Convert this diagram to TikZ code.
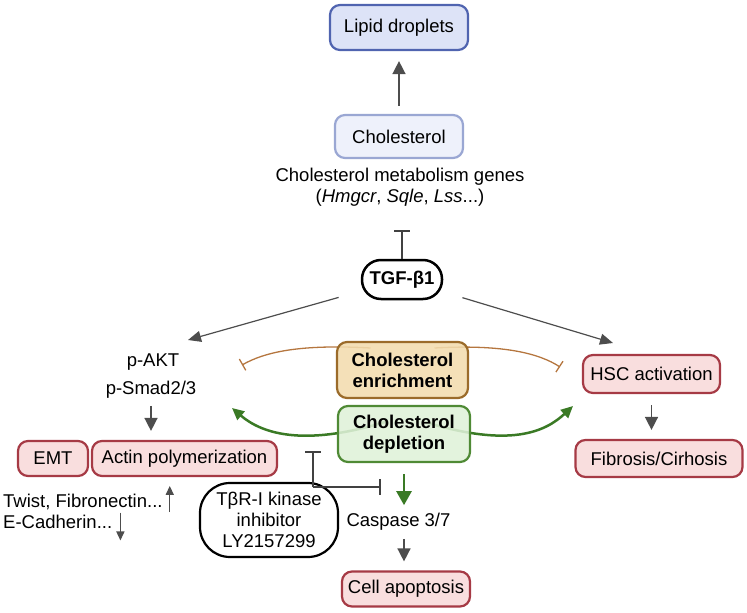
\documentclass[tikz,border=0pt]{standalone}
\usepackage{fontspec}
\setmainfont{Liberation Sans}
\usetikzlibrary{arrows.meta}
\pgfdeclarelayer{background}
\pgfsetlayers{background,main}
\definecolor{pinkF}{HTML}{F9DEDE}
\definecolor{pinkD}{HTML}{A63A45}
\definecolor{blueF}{HTML}{DDE3F7}
\definecolor{blueD}{HTML}{5064B0}
\definecolor{lblueF}{HTML}{EEF1FB}
\definecolor{lblueD}{HTML}{9AA7D3}
\definecolor{tanF}{HTML}{F2DCAE}
\definecolor{tanD}{HTML}{9B6B2A}
\definecolor{grnF}{HTML}{DFF1D8}
\definecolor{grnD}{HTML}{4F8A35}
\definecolor{brn}{HTML}{B5763F}
\definecolor{grnA}{HTML}{3A7A25}
\definecolor{arr}{HTML}{4D4D4D}
\begin{document}
\begin{tikzpicture}[x=1pt,y=-1pt,
  every node/.style={font=\fontsize{18.5}{21}\selectfont, inner sep=0pt, align=center},
  boldtxt/.style={font=\fontsize{18.5}{21}\selectfont\bfseries},
  box/.style={rounded corners=10pt, line width=2.2pt},
  pinkbox/.style={box, draw=pinkD, fill=pinkF},
  bluebox/.style={box, draw=blueD, fill=blueF},
  lbluebox/.style={box, draw=lblueD, fill=lblueF},
  tanbox/.style={box, draw=tanD, fill=tanF, fill opacity=0.88, text opacity=1, boldtxt},
  grnbox/.style={box, draw=grnD, fill=grnF, fill opacity=0.88, text opacity=1, boldtxt},
  garr/.style={draw=arr, line width=1.5pt, -{Triangle[length=13pt,width=13pt]}},
  tarr/.style={draw=arr, line width=1.2pt, -{Triangle[length=13pt,width=11pt]}},
  sarr/.style={draw=arr, line width=1.4pt, -{Triangle[length=9pt,width=8pt]}},
  inhib/.style={draw=arr!85!black, line width=2pt, -{Bar[width=16pt]}},
  binh/.style={draw=brn, line width=1.3pt, -{Bar[width=13pt]}},
  gcurve/.style={draw=grnA, line width=2.5pt, -{Triangle[length=12pt,width=11pt]}},
  gdown/.style={draw=grnA, line width=2.5pt, -{Triangle[length=14pt,width=15pt]}},
]
\useasboundingbox (0,0) rectangle (747,613);

% top
\node[bluebox, minimum width=138pt, minimum height=45pt] (lip) at (399,27.5) {Lipid droplets};
\node[lbluebox, minimum width=128pt, minimum height=43pt] (chol) at (399,136.5) {Cholesterol};
\node (genes) at (400,187) {Cholesterol metabolism genes\\(\textit{Hmgcr}, \textit{Sqle}, \textit{Lss}...)};
\node[draw, line width=2.5pt, rounded corners=19pt, minimum width=80pt, minimum height=39pt, boldtxt] (tgf) at (402,279.5) {TGF-β1};
\coordinate (tbar) at (402,230);

\draw[garr, shorten <=8pt, shorten >=10pt] (chol.north) -- (lip.south);
\draw[inhib] (tgf.north) -- (tbar);

% left branch
\node (pakt) at (153,362) {p-AKT};
\node (psmad) at (151,390) {p-Smad2/3};
\node[pinkbox, minimum width=70pt, minimum height=35pt] (emt) at (53,458.5) {EMT};
\node[pinkbox, minimum width=185pt, minimum height=35pt] (actin) at (184.5,458.5) {Actin polymerization};
\node[anchor=west] (twist) at (3,502) {Twist, Fibronectin...};
\node[anchor=west] (ecad) at (3,521.5) {E-Cadherin...};
\coordinate (lt) at (188,340);
\coordinate (rt) at (613,343);
\draw[tarr, shorten <=23pt] (tgf) -- (lt);
\draw[tarr, shorten <=20pt] (tgf) -- (rt);
\draw[garr, shorten <=7pt, shorten >=9pt] (psmad.south) -- (psmad.south |- actin.north);
\draw[sarr] ([shift={(7,2)}]twist.south east) -- ([shift={(7,-8)}]twist.north east);
\draw[sarr] ([shift={(8,-2)}]ecad.north east) -- ([shift={(8,12)}]ecad.south east);

% center
\node[tanbox, minimum width=131pt, minimum height=56pt] (enr) at (402.5,370) {Cholesterol\\enrichment};
\node[grnbox, minimum width=132pt, minimum height=56pt] (depl) at (404,434) {Cholesterol\\depletion};
\coordinate (bl) at (242,365);
\coordinate (br) at (560,367);
\coordinate (gl) at (232,408);
\coordinate (gr) at (573,406);
\begin{pgfonlayer}{background}
\draw[binh] ([shift={(-32,-22)}]enr.center) .. controls (300,344) and (265,352) .. (bl);
\draw[binh] ([shift={(32,-22)}]enr.center) .. controls (505,344) and (540,354) .. (br);
\draw[gcurve] ([shift={(-19,-12)}]depl.center) .. controls (300,448) and (260,432) .. (gl);
\draw[gcurve] ([shift={(21,-12)}]depl.center) .. controls (510,448) and (545,432) .. (gr);
\end{pgfonlayer}

% right branch
\node[pinkbox, minimum width=137pt, minimum height=38pt] (hsc) at (651.5,374) {HSC activation};
\node[pinkbox, minimum width=167pt, minimum height=37pt] (fib) at (659,458.5) {Fibrosis/Cirhosis};
\draw[garr, shorten <=11pt, shorten >=9pt] (hsc.south) -- (hsc.south |- fib.north);

% bottom
\node (casp) at (398.5,522) {Caspase 3/7};
\node[pinkbox, minimum width=128pt, minimum height=35pt] (apop) at (406,589) {Cell apoptosis};
\draw[gdown, shorten <=11pt, shorten >=8pt] (depl.south) -- (depl.south |- casp.north);
\draw[garr, shorten <=8pt, shorten >=9pt] (casp.south -| depl.south) -- (apop.north -| depl.south);

\node[draw, line width=2.2pt, rounded corners=30pt, minimum width=138pt, minimum height=74pt] (inh) at (269,520) {TβR-I kinase\\inhibitor\\LY2157299};
\coordinate (jn) at (313,487);
\coordinate (ib1) at (313,451);
\coordinate (ib2) at (381,487);
\draw[inhib] (jn) -- (ib1);
\draw[inhib] (jn) -- (ib2);
\end{tikzpicture}
\end{document}
